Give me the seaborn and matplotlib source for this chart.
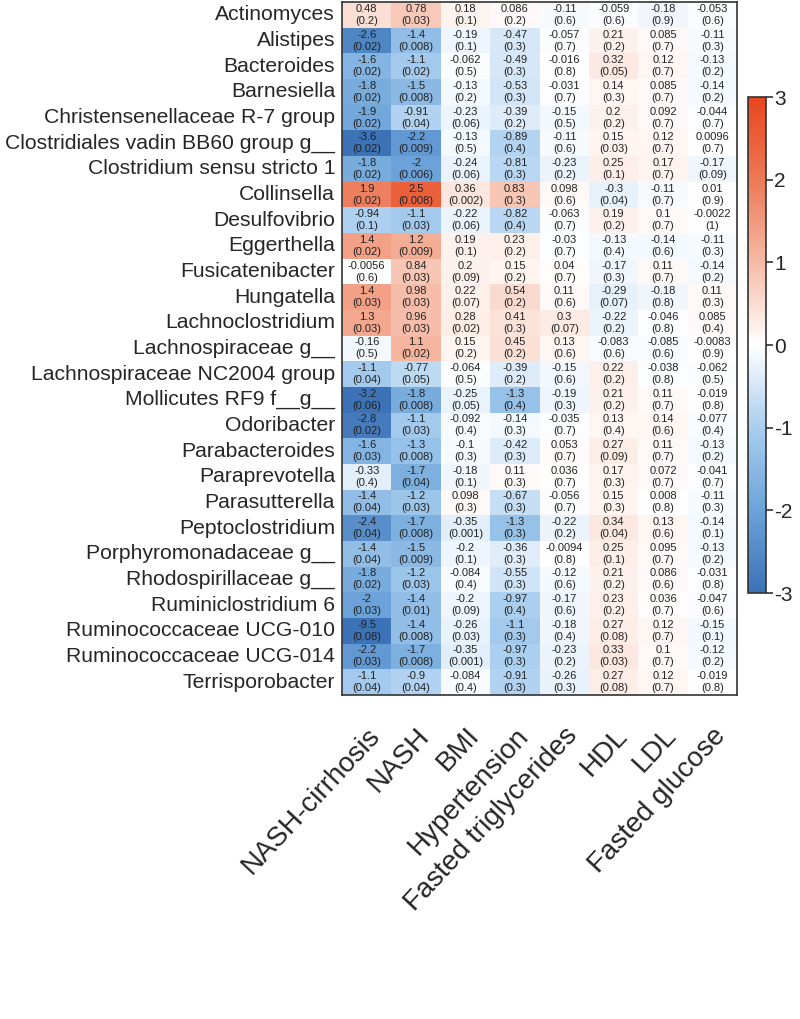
import numpy as np
import pandas as pd
import matplotlib
matplotlib.use("Agg")
import matplotlib.pyplot as plt
import seaborn as sns
from matplotlib.colors import LinearSegmentedColormap

genera = [
    "Actinomyces", "Alistipes", "Bacteroides", "Barnesiella",
    "Christensenellaceae R-7 group", "Clostridiales vadin BB60 group g__",
    "Clostridium sensu stricto 1", "Collinsella", "Desulfovibrio",
    "Eggerthella", "Fusicatenibacter", "Hungatella", "Lachnoclostridium",
    "Lachnospiraceae g__", "Lachnospiraceae NC2004 group",
    "Mollicutes RF9 f__g__", "Odoribacter", "Parabacteroides",
    "Paraprevotella", "Parasutterella", "Peptoclostridium",
    "Porphyromonadaceae g__", "Rhodospirillaceae g__", "Ruminiclostridium 6",
    "Ruminococcaceae UCG-010", "Ruminococcaceae UCG-014", "Terrisporobacter",
]
traits = ["NASH-cirrhosis", "NASH", "BMI", "Hypertension",
          "Fasted triglycerides", "HDL", "LDL", "Fasted glucose"]

# coefficients, one row per genus
coef = [
    [0.48, 0.78, 0.18, 0.086, -0.11, -0.059, -0.18, -0.053],
    [-2.6, -1.4, -0.19, -0.47, -0.057, 0.21, 0.085, -0.11],
    [-1.6, -1.1, -0.062, -0.49, -0.016, 0.32, 0.12, -0.13],
    [-1.8, -1.5, -0.13, -0.53, -0.031, 0.14, 0.085, -0.14],
    [-1.9, -0.91, -0.23, -0.39, -0.15, 0.2, 0.092, -0.044],
    [-3.6, -2.2, -0.13, -0.89, -0.11, 0.15, 0.12, 0.0096],
    [-1.8, -2, -0.24, -0.81, -0.23, 0.25, 0.17, -0.17],
    [1.9, 2.5, 0.36, 0.83, 0.098, -0.3, -0.11, 0.01],
    [-0.94, -1.1, -0.22, -0.82, -0.063, 0.19, 0.1, -0.0022],
    [1.4, 1.2, 0.19, 0.23, -0.03, -0.13, -0.14, -0.11],
    [-0.0056, 0.84, 0.2, 0.15, 0.04, -0.17, 0.11, -0.14],
    [1.4, 0.98, 0.22, 0.54, 0.11, -0.29, -0.18, 0.11],
    [1.3, 0.96, 0.28, 0.41, 0.3, -0.22, -0.046, 0.085],
    [-0.16, 1.1, 0.15, 0.45, 0.13, -0.083, -0.085, -0.0083],
    [-1.1, -0.77, -0.064, -0.39, -0.15, 0.22, -0.038, -0.062],
    [-3.2, -1.8, -0.25, -1.3, -0.19, 0.21, 0.11, -0.019],
    [-2.8, -1.1, -0.092, -0.14, -0.035, 0.13, 0.14, -0.077],
    [-1.6, -1.3, -0.1, -0.42, 0.053, 0.27, 0.11, -0.13],
    [-0.33, -1.7, -0.18, 0.11, 0.036, 0.17, 0.072, -0.041],
    [-1.4, -1.2, 0.098, -0.67, -0.056, 0.15, 0.008, -0.11],
    [-2.4, -1.7, -0.35, -1.3, -0.22, 0.34, 0.13, -0.14],
    [-1.4, -1.5, -0.2, -0.36, -0.0094, 0.25, 0.095, -0.13],
    [-1.8, -1.2, -0.084, -0.55, -0.12, 0.21, 0.086, -0.031],
    [-2, -1.4, -0.2, -0.97, -0.17, 0.23, 0.036, -0.047],
    [-9.5, -1.4, -0.26, -1.1, -0.18, 0.27, 0.12, -0.15],
    [-2.2, -1.7, -0.35, -0.97, -0.23, 0.33, 0.1, -0.12],
    [-1.1, -0.9, -0.084, -0.91, -0.26, 0.27, 0.12, -0.019],
]

# q-values shown in brackets
qval = [
    [0.2, 0.03, 0.1, 0.2, 0.6, 0.6, 0.9, 0.6],
    [0.02, 0.008, 0.1, 0.3, 0.7, 0.2, 0.7, 0.3],
    [0.02, 0.02, 0.5, 0.3, 0.8, 0.05, 0.7, 0.2],
    [0.02, 0.008, 0.2, 0.3, 0.7, 0.3, 0.7, 0.2],
    [0.02, 0.04, 0.06, 0.2, 0.5, 0.2, 0.7, 0.7],
    [0.02, 0.009, 0.5, 0.4, 0.6, 0.03, 0.7, 0.7],
    [0.02, 0.006, 0.06, 0.3, 0.2, 0.1, 0.7, 0.09],
    [0.02, 0.008, 0.002, 0.3, 0.6, 0.04, 0.7, 0.9],
    [0.1, 0.03, 0.06, 0.4, 0.7, 0.2, 0.7, 1],
    [0.02, 0.009, 0.1, 0.2, 0.7, 0.4, 0.6, 0.3],
    [0.6, 0.03, 0.09, 0.2, 0.7, 0.3, 0.7, 0.2],
    [0.03, 0.03, 0.07, 0.2, 0.6, 0.07, 0.8, 0.3],
    [0.03, 0.03, 0.02, 0.3, 0.07, 0.2, 0.8, 0.4],
    [0.5, 0.02, 0.2, 0.2, 0.6, 0.6, 0.6, 0.9],
    [0.04, 0.05, 0.5, 0.2, 0.6, 0.2, 0.8, 0.5],
    [0.06, 0.008, 0.05, 0.4, 0.3, 0.2, 0.7, 0.8],
    [0.02, 0.03, 0.4, 0.3, 0.7, 0.4, 0.6, 0.4],
    [0.03, 0.008, 0.3, 0.3, 0.7, 0.09, 0.7, 0.2],
    [0.4, 0.04, 0.1, 0.3, 0.7, 0.3, 0.7, 0.7],
    [0.04, 0.03, 0.3, 0.3, 0.7, 0.3, 0.8, 0.3],
    [0.04, 0.008, 0.001, 0.3, 0.2, 0.04, 0.6, 0.1],
    [0.04, 0.009, 0.1, 0.3, 0.8, 0.1, 0.7, 0.2],
    [0.02, 0.03, 0.4, 0.3, 0.6, 0.2, 0.6, 0.8],
    [0.03, 0.01, 0.09, 0.4, 0.6, 0.2, 0.7, 0.6],
    [0.08, 0.008, 0.03, 0.3, 0.4, 0.08, 0.7, 0.1],
    [0.03, 0.008, 0.001, 0.3, 0.2, 0.03, 0.7, 0.2],
    [0.04, 0.04, 0.4, 0.3, 0.3, 0.08, 0.7, 0.8],
]

df = pd.DataFrame(coef, index=genera, columns=traits)
labels = np.array([[f"{c:g}\n({q:g})" for c, q in zip(cr, qr)]
                   for cr, qr in zip(coef, qval)])

cmap = LinearSegmentedColormap.from_list("bwr_custom", [
    (0.0, "#3C72B6"), (1 / 6, "#6CA3D9"), (2 / 6, "#A9CEEF"),
    (0.5, "#FFFFFF"), (4 / 6, "#F6BBA6"), (5 / 6, "#EC7A57"),
    (1.0, "#E8461F"),
])

sns.set_style("white")
plt.rcParams['font.family'] = ['Liberation Sans', 'DejaVu Sans']
plt.rcParams['axes.unicode_minus'] = False

fig = plt.figure(figsize=(8, 10.19), dpi=100)
ax = fig.add_axes([0.4275, 0.318, 0.494, 0.680])
cax = fig.add_axes([0.935, 0.418, 0.0225, 0.4868])

sns.heatmap(df, ax=ax, cbar_ax=cax, cmap=cmap, vmin=-3, vmax=3,
            annot=labels, fmt='', annot_kws={'fontsize': 8, 'color': '#222222',
                                             'linespacing': 1.25})

for s in ax.spines.values():
    s.set_visible(True)
    s.set_color('#333333')
    s.set_linewidth(1.2)

ax.tick_params(axis='both', length=0)
ax.set_yticklabels(genera, fontsize=15.2, rotation=0)
ax.tick_params(axis='y', pad=5)
ax.set_xticklabels(traits, fontsize=20, rotation=47, ha='right',
                   rotation_mode='anchor')
ax.tick_params(axis='x', pad=20)
ax.set_xlabel('')
ax.set_ylabel('')

cbar = ax.collections[0].colorbar
cbar.set_ticks([-3, -2, -1, 0, 1, 2, 3])
cbar.ax.tick_params(labelsize=15, length=5, width=1.2, pad=1,
                    direction='out', color='#333333')
cbar.outline.set_visible(True)
cbar.outline.set_edgecolor('#333333')
cbar.outline.set_linewidth(1.2)

plt.savefig("out.png", dpi=100)
plt.close()
